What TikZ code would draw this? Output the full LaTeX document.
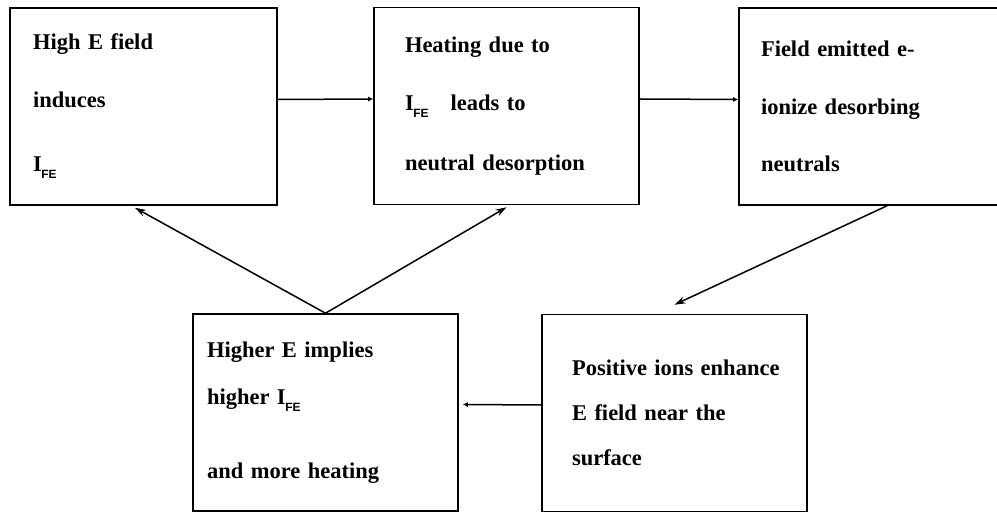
\documentclass[tikz,border=0pt]{standalone}
\usepackage{fontspec}
\setmainfont{Liberation Serif}
\newfontfamily\fesubfont{Liberation Sans}
\usetikzlibrary{arrows.meta}
% I with the FE subscript, as set in the boxes
\newcommand{\ife}{I\kern-0.5pt\raisebox{-7pt}{\fesubfont\bfseries\fontsize{12}{12}\selectfont FE}}
\tikzset{
  fe box/.style={draw, line width=1.6pt, rectangle, align=left, inner ysep=0pt,
    minimum height=197pt, font=\bfseries\fontsize{22.5}{22}\selectfont},
  fe arrow/.style={draw, line width=1.5pt, -{Stealth[length=11pt,width=7pt]}},
  fe link/.style={draw, line width=1.5pt, -{Latex[length=5pt,width=5pt]}},
}

\begin{document}
\begin{tikzpicture}[x=1pt,y=1pt]
  \useasboundingbox[fill=white] (0,0) rectangle (997,514);
  % top row
  \node[fe box, inner xsep=23pt, text width=221pt] (high) at (143.5,407.5)
    {High E field\\[36pt]induces\\[42pt]\ife};
  \node[fe box, inner xsep=31pt, text width=203pt] (heat) at (506.5,408)
    {Heating due to\\[36pt]\ife\hspace{22pt}leads to\\[37pt]neutral desorption};
  \node[fe box, inner xsep=22pt, text width=222pt] (ionize) at (872,407.5)
    {Field emitted e-\\[36pt]ionize desorbing\\[35pt]neutrals};
  % bottom row
  \node[fe box, inner xsep=14pt, text width=237pt] (more) at (325.5,101.5)
    {Higher E implies\\[25pt]higher \ife\\[50pt]and more heating};
  \node[fe box, inner xsep=30pt, text width=205pt] (ions) at (674.5,101)
    {\mbox{Positive ions enhance}\\[23pt]E field near the\\[23pt]surface};
  % loop
  \draw[fe link] ([yshift=7pt]high.east) -- ([yshift=7pt]heat.west);
  \draw[fe link] ([yshift=7pt]heat.east) -- ([yshift=7pt]ionize.west);
  \draw[fe arrow] ([xshift=15pt]ionize.south) -- ([yshift=9pt]ions.north);
  \draw[fe link] ([yshift=8pt]ions.west) -- ([xshift=4pt,yshift=8pt]more.east);
  \draw[fe arrow] (more.north) -- ([xshift=-8.5pt,yshift=-2pt]high.south);
  \draw[fe arrow] (more.north) -- ([yshift=-2pt]heat.south);
\end{tikzpicture}
\end{document}
